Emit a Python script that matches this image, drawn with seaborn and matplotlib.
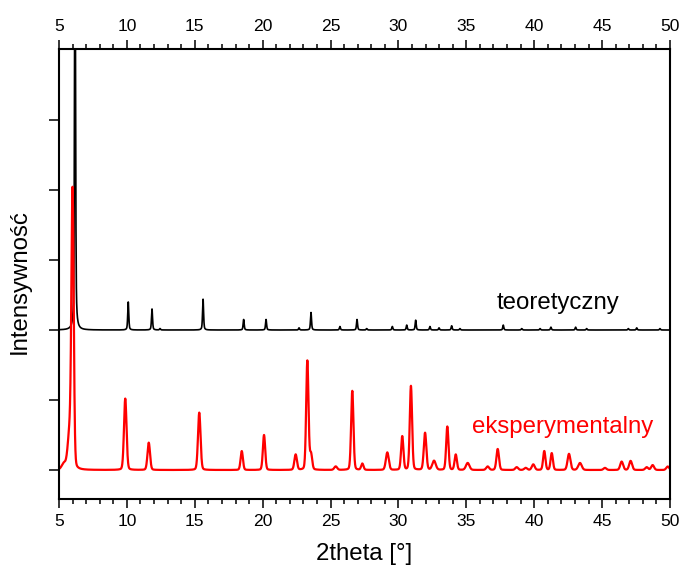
import numpy as np
import pandas as pd
import matplotlib
matplotlib.use("Agg")
import matplotlib.pyplot as plt
from matplotlib.ticker import MultipleLocator, NullFormatter
import seaborn as sns

# ---- data (peak lists) ----
# theoretical pattern (black), offset baseline = 2
theo_pos = [6.18, 10.10, 11.85, 12.44, 15.61, 18.60, 20.25, 22.68, 23.56, 25.69,
            26.95, 27.66, 29.55, 30.61, 31.27, 32.32, 32.99, 33.92, 34.53, 37.72,
            39.08, 40.43, 41.23, 43.05, 43.86, 46.93, 47.55, 49.26]
theo_int = [6.00, 0.40, 0.30, 0.02, 0.44, 0.15, 0.15, 0.03, 0.25, 0.05,
            0.15, 0.02, 0.05, 0.07, 0.14, 0.05, 0.03, 0.06, 0.02, 0.07,
            0.02, 0.02, 0.04, 0.04, 0.02, 0.02, 0.03, 0.02]
theo_offset = 2.0

# experimental pattern (red), baseline = 0
exp_pos = [5.35, 5.80, 6.00, 9.88, 11.61, 15.33, 18.46, 20.10, 22.43, 23.29, 23.56,
           25.38, 26.60, 27.34, 29.18, 30.28, 30.92, 31.96, 32.62, 33.60, 34.22,
           35.10, 36.57, 37.31, 38.71, 39.37, 39.93, 40.74, 41.29, 42.56, 43.37,
           45.21, 46.44, 47.10, 48.28, 48.72, 49.83]
exp_int = [0.08, 0.55, 3.82, 1.02, 0.39, 0.82, 0.27, 0.50, 0.22, 1.56, 0.22,
           0.05, 1.13, 0.09, 0.25, 0.48, 1.20, 0.53, 0.13, 0.62, 0.22,
           0.10, 0.05, 0.30, 0.04, 0.03, 0.08, 0.27, 0.24, 0.23, 0.10,
           0.03, 0.12, 0.13, 0.04, 0.07, 0.05]
exp_fwhm = [0.35, 0.35, 0.20, 0.22, 0.22, 0.22, 0.20, 0.20, 0.22, 0.20, 0.20,
            0.25, 0.20, 0.20, 0.25, 0.20, 0.20, 0.22, 0.30, 0.20, 0.20,
            0.30, 0.25, 0.22, 0.25, 0.25, 0.25, 0.20, 0.20, 0.25, 0.30,
            0.25, 0.25, 0.25, 0.25, 0.25, 0.25]

x_ticks = [5, 10, 15, 20, 25, 30, 35, 40, 45, 50]
labels = ["teoretyczny", "eksperymentalny"]


def pseudo_voigt(x, pos, amp, fwhm, eta):
    y = np.zeros_like(x)
    for p, a, w in zip(pos, amp, fwhm):
        g = np.exp(-4 * np.log(2) * ((x - p) / w) ** 2)
        l = 1.0 / (1.0 + 4 * ((x - p) / w) ** 2)
        y += a * (eta * l + (1 - eta) * g)
    return y


tt = np.linspace(5, 50, 4501)
theo_y = theo_offset + pseudo_voigt(tt, theo_pos, theo_int, [0.09] * len(theo_pos), 0.5)
exp_y = pseudo_voigt(tt, exp_pos, exp_int, exp_fwhm, 0.15)

df_theo = pd.DataFrame({"2theta": tt, "intensity": theo_y})
df_exp = pd.DataFrame({"2theta": tt, "intensity": exp_y})

# ---- plotting ----
sns.set_style("ticks")
plt.rcParams["font.family"] = ["Liberation Sans", "DejaVu Sans"]
plt.rcParams["text.color"] = "black"
plt.rcParams["axes.labelcolor"] = "black"
plt.rcParams["xtick.color"] = "black"
plt.rcParams["ytick.color"] = "black"

fig = plt.figure(figsize=(6.81, 5.69), dpi=100)
ax = fig.add_axes([59 / 681, 1 - 499 / 569, 611 / 681, 450 / 569])

sns.lineplot(data=df_theo, x="2theta", y="intensity", ax=ax, color="black",
             linewidth=1.2)
sns.lineplot(data=df_exp, x="2theta", y="intensity", ax=ax, color="#ff0000",
             linewidth=1.6)

ax.set_xlim(5, 50)
ax.set_ylim(-0.414, 6.014)

ax.set_xticks(x_ticks)
ax.set_xticklabels([str(t) for t in x_ticks])
ax.xaxis.set_minor_locator(MultipleLocator(1))
ax.set_yticks([0, 1, 2, 3, 4, 5])
ax.yaxis.set_major_formatter(NullFormatter())

for s in ax.spines.values():
    s.set_visible(True)
    s.set_linewidth(1.5)
    s.set_color("black")

ax.tick_params(axis="x", which="major", direction="out", length=6.5, width=1.1,
               top=True, labeltop=True, bottom=True, labelbottom=True,
               labelsize=12.6, pad=4, colors="black", labelcolor="black")
ax.tick_params(axis="x", which="minor", direction="out", length=3.6, width=1.1,
               top=True, bottom=True, colors="black")
ax.tick_params(axis="y", which="major", direction="out", length=7, width=1.1,
               left=True, right=False, labelleft=False, colors="black")

ax.set_xlabel("2theta [°]", fontsize=17.3, color="black")
ax.xaxis.set_label_coords(0.5, -0.098)
ax.set_ylabel("Intensywność", fontsize=17.3, color="black")
ax.yaxis.set_label_coords(-0.046, 0.484)

ax.text(37.24, 2.30, labels[0], color="black", fontsize=17.3,
        ha="left", va="baseline")
ax.text(35.39, 0.524, labels[1], color="#ff0000", fontsize=17.3,
        ha="left", va="baseline")

fig.savefig("out.png", dpi=100)
